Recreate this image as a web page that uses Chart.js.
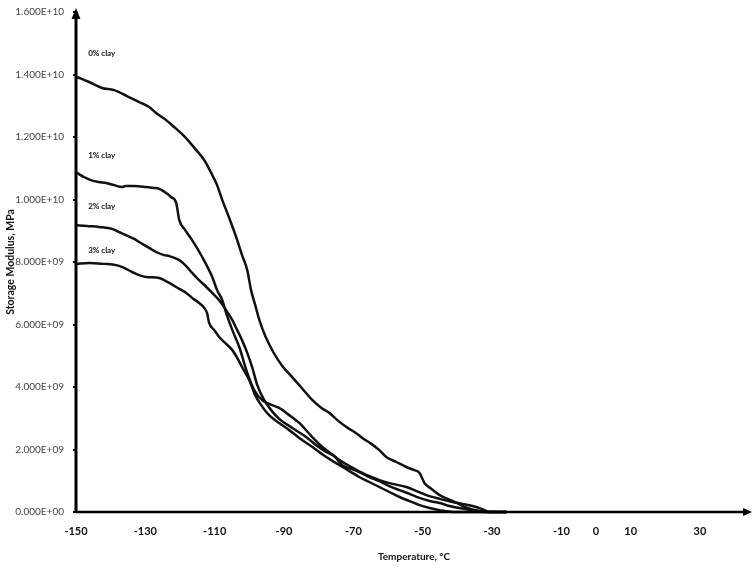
<!DOCTYPE html>
<html>
<head>
<meta charset="utf-8">
<script src="https://cdn.jsdelivr.net/npm/chart.js@4/dist/chart.umd.min.js"></script>
<style>
  body { margin: 0; background: #fff; }
  canvas { display: block; background: #fff; }
</style>
</head>
<body>
<canvas id="modulusChart" width="756" height="568"></canvas>
<script>
// temperatures in degC, storage modulus in units of 1E+09
let temps0 = [-149.7, -146.2, -142.5, -139.0, -135.3, -131.8, -128.9, -126.9, -124.0, -121.7, -118.8, -115.3, -113.0, -111.0, -109.3, -107.8, -105.8, -103.8, -102.1, -100.6, -99.5, -98.3, -97.1, -95.4, -93.1, -90.5, -87.9, -85.6, -81.8, -79.2, -76.9, -74.6, -72.0, -69.7, -67.4, -64.8, -62.5, -60.5, -57.6, -54.7, -52.4, -50.9, -49.5, -47.5, -45.1, -42.8, -40.2, -37.1, -33.6, -30.1, -25.8];
let modulus0 = [13.92, 13.76, 13.57, 13.50, 13.31, 13.12, 12.96, 12.77, 12.54, 12.32, 12.03, 11.58, 11.26, 10.85, 10.46, 9.98, 9.41, 8.80, 8.22, 7.74, 7.10, 6.62, 6.14, 5.63, 5.12, 4.67, 4.35, 4.06, 3.58, 3.33, 3.17, 2.94, 2.72, 2.56, 2.37, 2.18, 1.98, 1.76, 1.60, 1.44, 1.34, 1.25, 0.93, 0.74, 0.54, 0.42, 0.29, 0.13, 0.03, 0, 0];

let temps1 = [-149.7, -147.7, -145.7, -143.4, -141.3, -139.0, -136.7, -135.6, -133.2, -129.8, -127.5, -126.0, -124.0, -122.6, -121.1, -120.2, -118.5, -116.5, -113.6, -110.7, -109.3, -107.8, -106.7, -104.9, -102.9, -100.6, -98.6, -96.3, -94.3, -91.4, -88.5, -85.6, -82.1, -78.9, -76.3, -74.0, -70.6, -67.4, -64.8, -62.5, -58.7, -54.7, -51.8, -48.9, -45.1, -41.4, -38.5, -35.6, -33.0, -30.7, -25.8];
let modulus1 = [10.85, 10.72, 10.62, 10.56, 10.53, 10.46, 10.40, 10.43, 10.43, 10.40, 10.37, 10.34, 10.21, 10.08, 9.89, 9.34, 9.02, 8.70, 8.16, 7.52, 7.10, 6.78, 6.37, 5.82, 5.28, 4.45, 3.90, 3.58, 3.46, 3.33, 3.10, 2.85, 2.43, 2.08, 1.86, 1.66, 1.44, 1.25, 1.12, 1.02, 0.90, 0.80, 0.67, 0.54, 0.42, 0.32, 0.26, 0.19, 0.10, 0, 0];

let temps2 = [-150.0, -146.8, -143.4, -139.6, -137.6, -135.6, -133.2, -131.8, -128.9, -126.9, -124.6, -123.1, -120.2, -118.2, -116.5, -114.5, -112.4, -110.7, -108.7, -106.7, -104.9, -103.5, -102.1, -100.6, -99.2, -97.7, -95.7, -93.7, -91.4, -87.6, -83.6, -80.7, -77.8, -75.5, -73.2, -70.6, -68.3, -65.4, -62.5, -59.6, -56.7, -53.8, -50.9, -48.0, -45.1, -42.3, -39.4, -35.9, -32.1, -25.8];
let modulus2 = [9.18, 9.15, 9.12, 9.06, 8.96, 8.86, 8.74, 8.64, 8.45, 8.32, 8.22, 8.19, 8.06, 7.87, 7.65, 7.42, 7.20, 7.01, 6.78, 6.46, 6.14, 5.82, 5.50, 5.09, 4.64, 4.06, 3.58, 3.26, 2.98, 2.69, 2.40, 2.14, 1.92, 1.79, 1.50, 1.38, 1.28, 1.12, 0.99, 0.83, 0.70, 0.58, 0.45, 0.35, 0.29, 0.19, 0.13, 0.06, 0, 0];

let temps3 = [-150.0, -146.2, -141.9, -138.4, -136.1, -133.8, -131.8, -129.8, -126.0, -124.6, -123.1, -120.2, -118.2, -116.5, -114.5, -113.0, -112.2, -111.6, -110.1, -108.7, -106.7, -104.9, -103.5, -102.1, -100.0, -98.3, -96.6, -94.3, -91.4, -88.5, -85.6, -81.8, -77.8, -74.0, -71.1, -68.3, -65.4, -62.5, -59.6, -56.7, -53.8, -50.9, -48.0, -45.1, -40.8, -25.8];
let modulus3 = [7.94, 7.97, 7.94, 7.90, 7.81, 7.68, 7.58, 7.52, 7.49, 7.42, 7.33, 7.14, 7.01, 6.85, 6.69, 6.53, 6.37, 6.05, 5.82, 5.60, 5.38, 5.18, 4.93, 4.64, 4.22, 3.74, 3.42, 3.10, 2.85, 2.62, 2.37, 2.08, 1.76, 1.50, 1.31, 1.12, 0.96, 0.80, 0.64, 0.48, 0.35, 0.22, 0.13, 0.06, 0, 0];

// curve labels written on the plot
let clayNames = ['0% clay', '1% clay', '2% clay', '3% clay'];
let clayLabelTemps = [-146.5, -146.5, -146.5, -146.5];
let clayLabelValues = [14.66, 11.42, 9.79, 8.38];

let tempTicks = [-150, -130, -110, -90, -70, -50, -30, -10, 0, 10, 30];

function toPoints(temps, values) {
    return temps.map((t, i) => ({x: t, y: values[i] * 1e9}));
}

// Excel style 1.600E+10
function sciLabel(v) {
    let parts = Number(v).toExponential(3).toUpperCase().split('E');
    let sign = parts[1][0] === '-' ? '-' : '+';
    let exp = parts[1].replace(/[+-]/, '').padStart(2, '0');
    return parts[0] + 'E' + sign + exp;
}

//Draw both axis lines with arrow heads
const axisArrows = {
    id: 'axisArrows',
    afterDatasetsDraw(chart) {
        let ctx = chart.ctx;
        let a = chart.chartArea;
        ctx.save();
        ctx.fillStyle = '#000';
        ctx.strokeStyle = '#000';

        ctx.lineWidth = 3;
        ctx.beginPath();
        ctx.moveTo(a.left, a.bottom + 1);
        ctx.lineTo(a.left, a.top);
        ctx.stroke();
        ctx.beginPath();
        ctx.moveTo(a.left, a.top - 4);
        ctx.lineTo(a.left - 4.5, a.top + 7);
        ctx.lineTo(a.left + 4.5, a.top + 7);
        ctx.closePath();
        ctx.fill();

        ctx.lineWidth = 2.5;
        ctx.beginPath();
        ctx.moveTo(a.left, a.bottom);
        ctx.lineTo(a.right - 6, a.bottom);
        ctx.stroke();
        ctx.beginPath();
        ctx.moveTo(a.right, a.bottom);
        ctx.lineTo(a.right - 9, a.bottom - 4);
        ctx.lineTo(a.right - 9, a.bottom + 4);
        ctx.closePath();
        ctx.fill();
        ctx.restore();
    }
};

//Write the "x% clay" notes next to the curves
const clayNotes = {
    id: 'clayNotes',
    afterDatasetsDraw(chart) {
        let ctx = chart.ctx;
        let xs = chart.scales.x;
        let ys = chart.scales.y;
        ctx.save();
        ctx.font = 'bold 8px Lato';
        ctx.fillStyle = '#111';
        ctx.textBaseline = 'middle';
        clayNames.forEach((name, i) => {
            ctx.fillText(name, xs.getPixelForValue(clayLabelTemps[i]), ys.getPixelForValue(clayLabelValues[i] * 1e9));
        });
        ctx.restore();
    }
};

function makeLine(points) {
    return {
        data: points,
        borderColor: '#111',
        borderWidth: 2.5,
        pointRadius: 0,
        cubicInterpolationMode: 'monotone',
        clip: false
    };
}

new Chart('modulusChart', {
    type: 'line',
    data: {
        datasets: [
            makeLine(toPoints(temps0, modulus0)),
            makeLine(toPoints(temps1, modulus1)),
            makeLine(toPoints(temps2, modulus2)),
            makeLine(toPoints(temps3, modulus3))
        ]
    },
    options: {
        responsive: false,
        animation: false,
        layout: { padding: { top: 12, right: 4, left: 0, bottom: 0 } },
        plugins: { legend: { display: false }, tooltip: { enabled: false } },
        scales: {
            x: {
                type: 'linear',
                min: -150,
                max: 45,
                afterBuildTicks: scale => { scale.ticks = tempTicks.map(v => ({value: v})); },
                afterFit: scale => { scale.height = 56; },
                grid: { display: false, drawTicks: false },
                border: { display: false },
                ticks: {
                    autoSkip: false,
                    maxRotation: 0,
                    padding: 13,
                    color: '#111',
                    font: { family: 'Lato', size: 11, weight: 'bold' },
                    callback: v => String(v)
                },
                title: {
                    display: true,
                    text: 'Temperature, °C',
                    color: '#111',
                    font: { family: 'Lato', size: 10, weight: 'bold' },
                    padding: { top: 0, bottom: 5 }
                }
            },
            y: {
                min: 0,
                max: 1.6e10,
                afterFit: scale => {
                    scale.width = 76;
                    scale.paddingTop = 0;
                    scale.paddingBottom = 0;
                },
                grid: { drawOnChartArea: false, color: '#000', lineWidth: 2, tickLength: 3 },
                border: { display: false },
                ticks: {
                    stepSize: 2e9,
                    padding: 9,
                    color: '#444',
                    font: { family: 'Lato', size: 10 },
                    callback: v => sciLabel(v)
                },
                title: {
                    display: true,
                    text: 'Storage Modulus, MPa',
                    color: '#111',
                    font: { family: 'Lato', size: 10.5, weight: 'bold' },
                    padding: { top: 4, bottom: 0 }
                }
            }
        }
    },
    plugins: [axisArrows, clayNotes]
});
</script>
</body>
</html>
